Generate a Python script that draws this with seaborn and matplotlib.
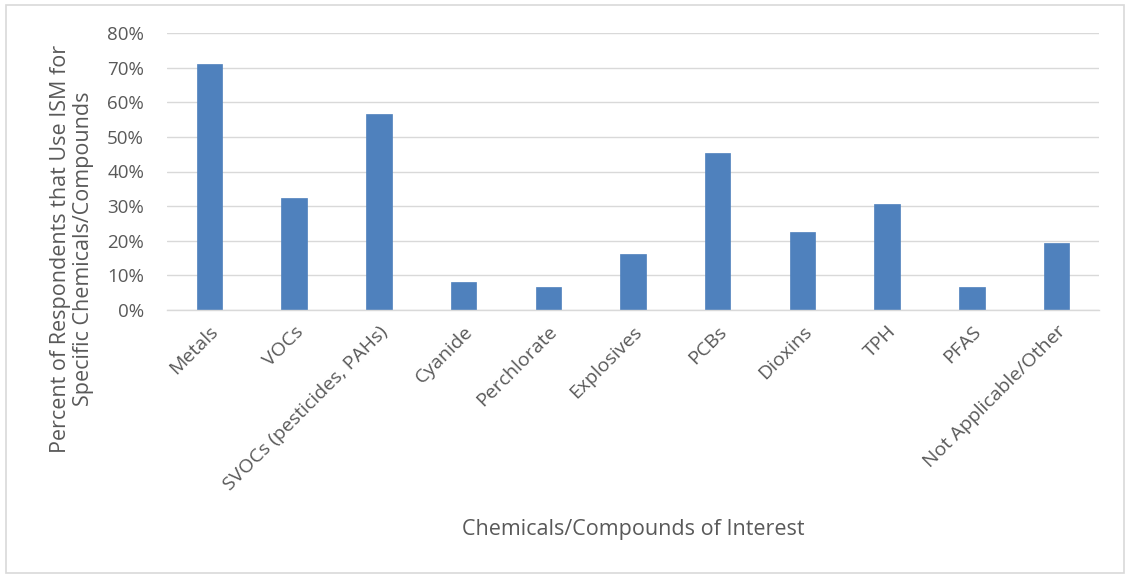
import matplotlib
matplotlib.use("Agg")
import matplotlib.pyplot as plt
import seaborn as sns
import pandas as pd
from matplotlib.patches import Rectangle
from matplotlib.ticker import PercentFormatter

categories = ["Metals", "VOCs", "SVOCs (pesticides, PAHs)", "Cyanide", "Perchlorate",
              "Explosives", "PCBs", "Dioxins", "TPH", "PFAS", "Not Applicable/Other"]
values = [71.0, 32.3, 56.5, 8.1, 6.5, 16.1, 45.2, 22.6, 30.6, 6.5, 19.4]

y_ticks = [0, 10, 20, 30, 40, 50, 60, 70, 80]
y_label = "Percent of Respondents that Use ISM for\nSpecific Chemicals/Compounds"
x_label = "Chemicals/Compounds of Interest"

sns.set_theme(style="white")
plt.rcParams['font.family'] = ['Open Sans', 'DejaVu Sans']

W, H = 1128, 574
fig = plt.figure(figsize=(W / 100, H / 100), dpi=100)
ax = fig.add_axes([167 / W, 1 - 310 / H, (1099 - 167) / W, (310 - 33) / H])

df = pd.DataFrame({"cat": categories, "val": values})
sns.barplot(data=df, x="cat", y="val", ax=ax, color="#4F81BD", saturation=1,
            width=0.30, edgecolor="#4F81BD", linewidth=0.5)

text_color = "#595959"
ax.set_ylim(0, 80)
ax.set_xlim(-0.5, len(categories) - 0.5)
ax.set_yticks(y_ticks)
ax.yaxis.set_major_formatter(PercentFormatter(decimals=0))
ax.grid(axis="y", color="#D9D9D9", linewidth=1.0)
ax.set_axisbelow(True)
for s in ["top", "right", "left"]:
    ax.spines[s].set_visible(False)
ax.spines["bottom"].set_color("#D9D9D9")
ax.spines["bottom"].set_linewidth(1.0)
ax.tick_params(axis="y", length=0, pad=16.5, labelsize=13.5, labelcolor=text_color)
ax.tick_params(axis="x", length=0, pad=9, labelsize=14, labelcolor=text_color)
for lbl in ax.get_xticklabels():
    lbl.set_rotation(45)
    lbl.set_ha("right")
    lbl.set_rotation_mode("anchor")
ax.set_xlabel("")
ax.set_ylabel("")

fig.text(72 / W, 1 - 249 / H, y_label, rotation=90, ha="center", va="center",
         fontsize=15.5, color=text_color, linespacing=1.15)
fig.text(633 / W, 1 - 530 / H, x_label, ha="center", va="center",
         fontsize=15.5, color=text_color)

fig.patches.append(Rectangle((6 / W, 1 - 573 / H), (1124 - 6) / W, (573 - 5) / H,
                             transform=fig.transFigure, fill=False,
                             edgecolor="#D9D9D9", linewidth=1.2))

fig.savefig("out.png", dpi=100, facecolor="white")
